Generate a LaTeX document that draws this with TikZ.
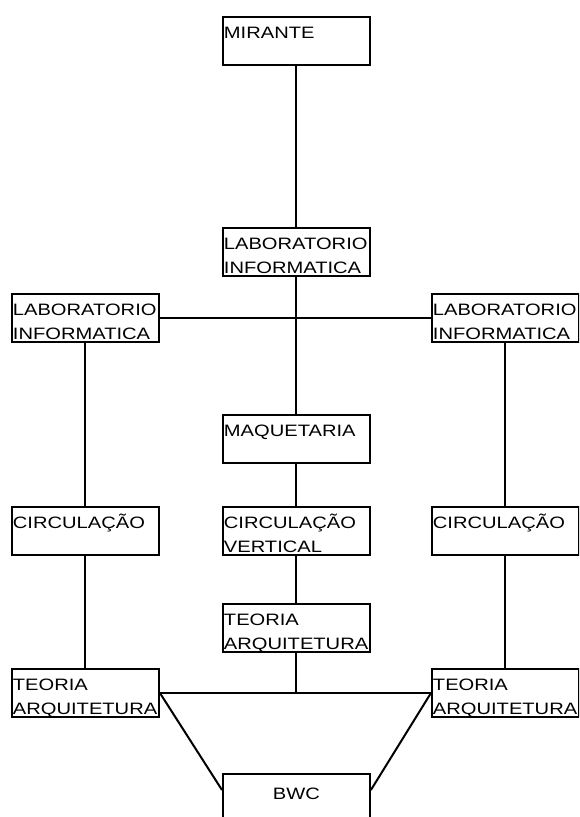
\documentclass[tikz,border=0pt]{standalone}
\usepackage{fontspec}
\newfontfamily\salafont{Liberation Sans}[FakeStretch=1.22]

\tikzset{
  sala/.style={draw, line width=1.9pt, anchor=north west, inner sep=0pt, inner xsep=1pt,
    text width=145pt, align=left, text height=22pt, text depth=26pt,
    font=\salafont\fontsize{16.5}{24}\selectfont},
  liga/.style={line width=2pt}
}

\begin{document}
\begin{tikzpicture}[x=1pt,y=-1pt]
    \path[use as bounding box, clip] (0,0) rectangle (579,817);

    % coluna central
    \node[sala] (mirante) at (222,16) {MIRANTE};
    \node[sala] (labc) at (222,227) {LABORATORIO\\INFORMATICA};
    \node[sala] (maq) at (222,414) {MAQUETARIA};
    \node[sala] (circv) at (222,506) {CIRCULAÇÃO\\VERTICAL};
    \node[sala] (teoc) at (222,603) {TEORIA\\ARQUITETURA};
    \node[sala, align=center, text height=26pt, text depth=22pt] (bwc) at (222,773) {BWC};

    % colunas laterais
    \node[sala] (labl) at (11,293) {LABORATORIO\\INFORMATICA};
    \node[sala] (circl) at (11,506) {CIRCULAÇÃO};
    \node[sala] (teol) at (11,668) {TEORIA\\ARQUITETURA};
    \node[sala] (labr) at (431,293) {LABORATORIO\\INFORMATICA};
    \node[sala] (circr) at (431,506) {CIRCULAÇÃO};
    \node[sala] (teor) at (431,668) {TEORIA\\ARQUITETURA};

    \coordinate (bwcl) at ([yshift=-17pt]bwc.north west);
    \coordinate (bwcr) at ([yshift=-17pt]bwc.north east);

    \draw[liga] (mirante) -- (labc);
    \draw[liga] (labc) -- (maq);
    \draw[liga] (maq) -- (circv);
    \draw[liga] (circv) -- (teoc);
    \draw[liga] (teoc.south) -- (teoc.south |- teol.east);

    \draw[liga] (labl.east) -- (labr.west);
    \draw[liga] (labl) -- (circl);
    \draw[liga] (circl) -- (teol);
    \draw[liga] (labr) -- (circr);
    \draw[liga] (circr) -- (teor);

    \draw[liga] (teol.east) -- (teor.west);
    \draw[liga] (teol.east) -- (bwcl);
    \draw[liga] (teor.west) -- (bwcr);
\end{tikzpicture}
\end{document}
